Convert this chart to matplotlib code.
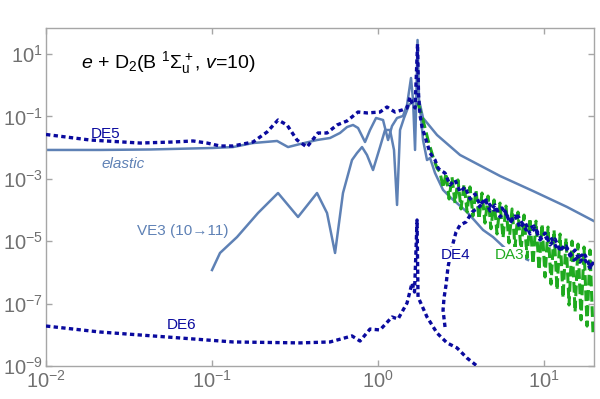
import matplotlib
matplotlib.use("Agg")
import matplotlib.pyplot as plt

# ---------------- data (energy in eV, cross section) ----------------
elastic_E = [0.01, 0.0211, 0.0424, 0.1, 0.1338, 0.1766, 0.2466, 0.287, 0.339, 0.429,
             0.514, 0.590, 0.651, 0.707, 0.758, 0.835, 0.895, 0.973, 1.072, 1.149,
             1.214, 1.302, 1.414, 1.495, 1.580, 1.625, 1.671, 1.694, 1.730, 1.766,
             1.867, 2.267, 3.119, 5.433, 8.585, 13.76, 20.0]
elastic_S = [8.4e-3, 8.4e-3, 8.7e-3, 9.7e-3, 1.04e-2, 1.40e-2, 1.63e-2, 1.04e-2, 1.30e-2, 1.75e-2,
             2.03e-2, 2.94e-2, 4.57e-2, 5.3e-2, 4.25e-2, 1.51e-2, 3.66e-2, 8.89e-2, 7.67e-2, 1.75e-2,
             4.92e-2, 8.89e-2, 0.103, 0.232, 1.70, 0.336, 8.4e-3, 0.160, 28.1, 0.336,
             8.89e-2, 2.53e-2, 5.8e-3, 1.23e-3, 4.06e-4, 1.25e-4, 4.4e-5]

ve3_E = [0.1, 0.1117, 0.1415, 0.1892, 0.2498, 0.3297, 0.429, 0.493, 0.551, 0.615,
         0.697, 0.747, 0.801, 0.858, 0.933, 1.028, 1.102, 1.181, 1.248, 1.302,
         1.357, 1.434, 1.537, 1.648, 1.791, 1.867, 1.973, 2.058, 2.205, 2.464,
         2.715, 3.437, 4.291, 4.930, 5.985, 8.01]
ve3_S = [1.19e-6, 4.19e-6, 1.36e-5, 8.0e-5, 3.5e-4, 5.97e-5, 3.5e-4, 8.0e-5, 4.19e-6, 3.5e-4,
         4.0e-3, 6.7e-3, 1.04e-2, 5.8e-3, 1.91e-3, 1.04e-2, 3.66e-2, 3.66e-2, 8.4e-3, 1.45e-4,
         3.66e-2, 8.89e-2, 0.232, 0.336, 0.200, 1.75e-2, 4.0e-3, 4.65e-3, 1.53e-3, 4.4e-4,
         2.61e-4, 8.6e-5, 2.29e-5, 1.36e-5, 5.2e-6, 2.5e-6]

de5_E = [0.01, 0.0184, 0.0368, 0.0582, 0.0768, 0.0933, 0.1117, 0.1338, 0.1766, 0.2145,
         0.250, 0.283, 0.325, 0.373, 0.435, 0.493, 0.566, 0.650, 0.758, 0.859,
         1.028, 1.132, 1.265, 1.395, 1.495, 1.559, 1.603, 1.671, 1.706, 1.730,
         1.754, 1.791, 1.841, 1.973, 2.058, 2.205, 2.298,
         2.363, 2.533, 2.715, 2.911, 3.119, 3.344, 3.584, 3.841, 4.118, 4.413,
         4.730, 5.070, 5.433, 5.826, 6.243, 6.692, 7.171, 7.686, 8.240, 8.830,
         9.46, 10.14, 10.87, 11.65, 12.49, 13.38, 14.34, 15.37, 16.48, 17.66,
         18.93, 19.73]
de5_S = [2.63e-2, 1.75e-2, 1.40e-2, 1.51e-2, 1.63e-2, 1.40e-2, 1.125e-2, 1.125e-2, 1.51e-2, 3.16e-2,
         7.67e-2, 5.3e-2, 1.75e-2, 1.04e-2, 2.94e-2, 2.94e-2, 5.3e-2, 7.13e-2, 0.138, 0.129,
         0.138, 0.200, 0.138, 0.160, 0.186, 0.419, 0.268, 0.186, 3.07, 20.9,
         0.485, 0.111, 4.57e-2, 1.40e-2, 6.7e-3, 4.0e-3, 2.22e-3,
         1.91e-3, 1.53e-3, 6.3e-4, 9.2e-4, 3.78e-4, 5.46e-4, 2.25e-4, 3.26e-4, 1.45e-4, 2.25e-4,
         9.3e-5, 1.45e-4, 5.97e-5, 9.3e-5, 3.83e-5, 6.43e-5, 2.65e-5, 4.12e-5, 1.70e-5, 2.65e-5,
         1.09e-5, 1.83e-5, 7.55e-6, 1.18e-5, 4.85e-6, 7.55e-6, 3.36e-6, 5.22e-6, 2.15e-6, 3.61e-6,
         1.49e-6, 2.0e-6]

de4_E = [2.533, 2.464, 2.498, 2.568, 2.640, 2.791, 2.951, 3.119, 3.389, 3.684,
         4.003, 4.473, 4.998, 5.585, 6.243, 6.973, 7.793, 8.708, 9.727, 10.87,
         12.14, 13.57, 15.16, 16.94, 18.93, 20.0]
de4_S = [1.78e-8, 6.2e-8, 1.51e-7, 3.94e-7, 1.49e-6, 6.5e-6, 1.97e-5, 3.3e-5, 4.12e-5, 8.6e-5,
         1.16e-4, 2.1e-4, 1.0e-4, 1.16e-4, 4.78e-5, 6.43e-5, 2.29e-5, 3.07e-5, 1.09e-5, 1.47e-5,
         5.22e-6, 7.0e-6, 2.5e-6, 3.61e-6, 1.38e-6, 2.15e-6]

de6_E = [0.01, 0.0211, 0.0536, 0.1338, 0.339, 0.514, 0.697, 0.779, 0.895, 1.028,
         1.214, 1.320, 1.495, 1.603, 1.659, 1.718, 1.742, 1.973, 2.267, 2.604,
         2.991, 3.437, 3.949, 4.23]
de6_S = [1.91e-8, 1.23e-8, 8.5e-9, 5.9e-9, 5.5e-9, 5.9e-9, 9.2e-9, 6.3e-9, 1.53e-8, 1.43e-8,
         3.72e-8, 3.21e-8, 1.04e-7, 4.57e-7, 2.35e-7, 4.78e-5, 1.63e-7, 3.72e-8, 1.14e-8, 5.5e-9,
         3.8e-9, 1.8e-9, 1.0e-9, 7.4e-10]

da3_E = [1.742, 1.867, 2.001, 2.145, 2.267,
         2.36, 2.47, 2.57, 2.68, 2.79, 2.91, 3.03, 3.16, 3.30, 3.44,
         3.58, 3.73, 3.89, 4.06, 4.23, 4.41, 4.60, 4.79, 5.00, 5.21,
         5.43, 5.66, 5.90, 6.15, 6.42, 6.69, 6.97, 7.27, 7.58, 7.90,
         8.23, 8.58, 8.95, 9.33, 9.73, 10.14, 10.57, 11.02, 11.49, 11.98,
         12.49, 13.02, 13.57, 14.15, 14.75, 15.38, 16.03, 16.71, 17.42, 18.16,
         18.93, 19.74]
da3_S = [0.268, 7.67e-2, 1.75e-2, 5.0e-3, 2.2e-3,
         1.65e-3, 5.07e-4, 1.53e-3, 2.25e-4, 1.14e-3, 1.67e-4, 9.2e-4, 1.08e-4, 6.8e-4, 8.6e-5,
         5.5e-4, 6.4e-5, 4.4e-4, 5.1e-5, 3.5e-4, 3.8e-5, 2.8e-4, 2.5e-5, 2.1e-4, 1.7e-5,
         1.67e-4, 1.27e-5, 1.34e-4, 8.8e-6, 1.08e-4, 6.5e-6, 8.6e-5, 4.9e-6, 6.9e-5, 2.9e-6,
         5.5e-5, 1.86e-6, 4.4e-5, 1.19e-6, 3.6e-5, 7.1e-7, 2.85e-5, 4.2e-7, 2.3e-5, 2.7e-7,
         1.7e-5, 1.5e-7, 1.27e-5, 9.0e-8, 1.01e-5, 5.4e-8, 8.1e-6, 3.0e-8, 6.5e-6, 1.9e-8,
         5.2e-6, 9.9e-9]

x_ticks = [1e-2, 1e-1, 1e0, 1e1]
x_labels = [r"$10^{-2}$", r"$10^{-1}$", r"$10^{0}$", r"$10^{1}$"]
y_ticks = [1e1, 1e-1, 1e-3, 1e-5, 1e-7, 1e-9]
y_labels = [r"$10^{1}$", r"$10^{-1}$", r"$10^{-3}$", r"$10^{-5}$", r"$10^{-7}$", r"$10^{-9}$"]

# ---------------- styling ----------------
plt.rcParams["font.family"] = ["Liberation Sans", "DejaVu Sans"]
plt.rcParams["mathtext.fontset"] = "custom"
plt.rcParams["mathtext.rm"] = "Liberation Sans"
plt.rcParams["mathtext.it"] = "Liberation Sans:italic"
plt.rcParams["mathtext.bf"] = "Liberation Sans:bold"
plt.rcParams["mathtext.sf"] = "Liberation Sans"
plt.rcParams["mathtext.fallback"] = "stixsans"

c_solid = "#5e81b5"
c_navy = "#0a0a9e"
c_green = "#1faa1f"
c_frame = "#a6a6a6"
c_tick = "#707070"

fig = plt.figure(figsize=(6.0, 3.99), dpi=100)
ax = fig.add_axes([0.0767, 0.0827, 0.9133, 0.8471])

ax.plot(elastic_E, elastic_S, color=c_solid, lw=1.8, solid_joinstyle="round", zorder=2)
ax.plot(ve3_E, ve3_S, color=c_solid, lw=1.8, solid_joinstyle="round", zorder=2)
ax.plot(da3_E, da3_S, color=c_green, lw=2.2, dashes=(3.5, 1.5), zorder=3)
ax.plot(de5_E, de5_S, color=c_navy, lw=2.4, dashes=(1.3, 1.0), zorder=4)
ax.plot(de4_E, de4_S, color=c_navy, lw=2.4, dashes=(1.3, 1.0), zorder=4)
ax.plot(de6_E, de6_S, color=c_navy, lw=2.4, dashes=(1.3, 1.0), zorder=4)

ax.set_xscale("log")
ax.set_yscale("log")
ax.set_xlim(1e-2, 20)
ax.set_ylim(1e-9, 68)

ax.set_xticks(x_ticks)
ax.set_xticklabels(x_labels)
ax.set_yticks(y_ticks)
ax.set_yticklabels(y_labels)
ax.minorticks_off()
ax.tick_params(axis="both", which="major", direction="in", length=4, width=1,
               color=c_frame, labelcolor=c_tick, labelsize=14.5, top=True, right=True,
               pad=3)
ax.tick_params(axis="y", pad=2)
for s in ax.spines.values():
    s.set_color(c_frame)
    s.set_linewidth(1.0)

# ---------------- annotations ----------------
ax.text(0.064, 0.897, r"$e$ + D$_2$(B $^1\Sigma_\mathrm{u}^+$, $v$=10)", transform=ax.transAxes,
        fontsize=14, color="black", ha="left", va="center")
ax.text(0.0227, 0.0275, "DE5", color=c_navy, fontsize=11, ha="center", va="center")
ax.text(0.0291, 2.9e-3, "elastic", color=c_solid, fontsize=11, style="italic",
        ha="center", va="center")
ax.text(0.0668, 2.1e-5, "VE3 (10\u219211)", color=c_solid, fontsize=11,
        ha="center", va="center")
ax.text(0.0659, 2.0e-8, "DE6", color=c_navy, fontsize=11, ha="center", va="center")
ax.text(2.95, 3.7e-6, "DE4", color=c_navy, fontsize=11, ha="center", va="center",
        zorder=6, bbox=dict(boxstyle="square,pad=0.05", fc="white", ec="none"))
ax.text(6.2, 3.7e-6, "DA3", color=c_green, fontsize=11, ha="center", va="center",
        zorder=6, bbox=dict(boxstyle="square,pad=0.05", fc="white", ec="none"))

fig.savefig("out.png", dpi=100)
